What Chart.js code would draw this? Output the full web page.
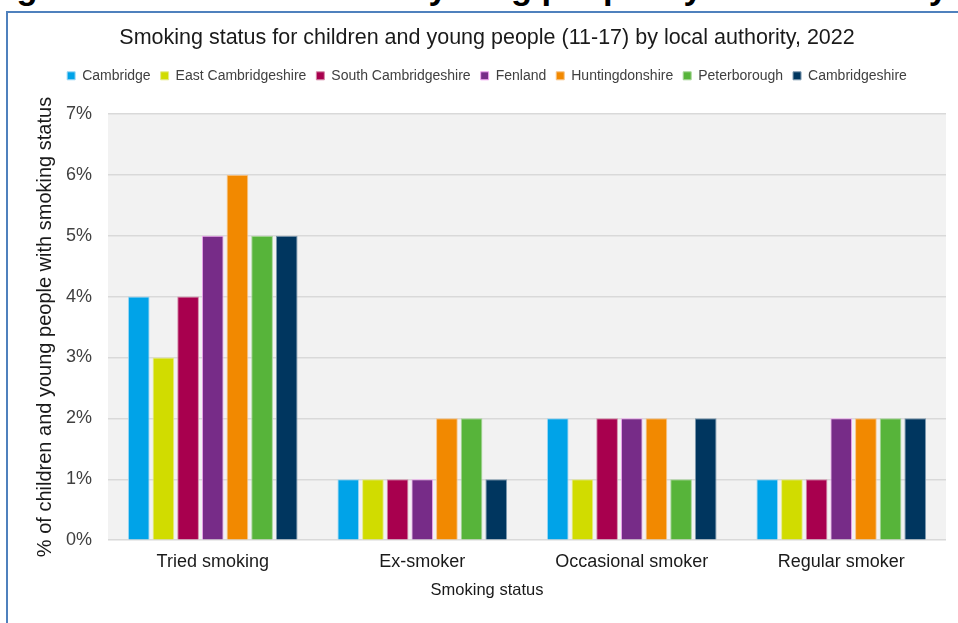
<!DOCTYPE html>
<html>
<head>
<meta charset="utf-8">
<script src="https://cdn.jsdelivr.net/npm/chart.js@4"></script>
<style>
  html, body { margin: 0; padding: 0; background: #fff; overflow: hidden; width: 958px; height: 623px; }
  #heading { position: absolute; right: 10px; top: -30px; font: bold 34.5px/34.5px "Liberation Sans", Arial, sans-serif; color: #000; white-space: nowrap; }
  #frame { position: absolute; left: 6px; top: 11px; width: 1000px; height: 700px; border-left: 2px solid #4f81bd; border-top: 2px solid #4f81bd; }
  #wrap { position: absolute; left: 8px; top: 13px; width: 964px; height: 610px; }
</style>
</head>
<body>
<div id="heading">Figure 20: Smoking status for children and young people by local authority</div>
<div id="frame"></div>
<div id="wrap"><canvas id="c" width="964" height="610"></canvas></div>
<script>
const categories = ['Tried smoking', 'Ex-smoker', 'Occasional smoker', 'Regular smoker'];
const seriesNames = ['Cambridge', 'East Cambridgeshire', 'South Cambridgeshire', 'Fenland', 'Huntingdonshire', 'Peterborough', 'Cambridgeshire'];
const cambridge = [4, 1, 2, 1];
const eastCambridgeshire = [3, 1, 1, 1];
const southCambridgeshire = [4, 1, 2, 1];
const fenland = [5, 1, 2, 2];
const huntingdonshire = [6, 2, 2, 2];
const peterborough = [5, 2, 1, 2];
const cambridgeshire = [5, 1, 2, 2];
const yTicks = [0, 1, 2, 3, 4, 5, 6, 7];

const seriesValues = [cambridge, eastCambridgeshire, southCambridgeshire, fenland, huntingdonshire, peterborough, cambridgeshire];
const fills = ['#00a3e8', '#d1dc00', '#a8004e', '#772c88', '#f28900', '#57b43a', '#00365f'];
const borders = ['#9fd8f5', '#e6eb8a', '#d48aa8', '#f2a6f2', '#f7c58a', '#a9d69a', '#7f9bb0'];

const FONT = '"Liberation Sans", Arial, sans-serif';

const plotBg = {
  id: 'plotBg',
  beforeDraw(chart) {
    const { ctx, chartArea: a } = chart;
    ctx.save();
    ctx.fillStyle = '#f2f2f2';
    ctx.fillRect(a.left, a.top, a.right - a.left, a.bottom - a.top);
    ctx.restore();
  }
};
const legendGap = {
  id: 'legendGap',
  beforeInit(chart) {
    const fit = chart.legend.fit;
    chart.legend.fit = function () { fit.bind(chart.legend)(); this.height += 21; };
  }
};

new Chart(document.getElementById('c'), {
  type: 'bar',
  data: {
    labels: categories,
    datasets: seriesNames.map((n, i) => ({
      label: n,
      data: seriesValues[i],
      backgroundColor: fills[i],
      borderColor: borders[i],
      borderWidth: 1,
      categoryPercentage: 0.824,
      barPercentage: 0.88
    }))
  },
  options: {
    responsive: false,
    devicePixelRatio: 1,
    animation: false,
    layout: { padding: { left: 20, right: 26, top: 0, bottom: 0 } },
    plugins: {
      tooltip: { enabled: false },
      title: {
        display: true,
        text: 'Smoking status for children and young people (11-17) by local authority, 2022',
        color: '#1a1a1a',
        font: { family: FONT, size: 21.5, weight: 'normal' },
        padding: { top: 12, bottom: 8 }
      },
      legend: {
        display: true,
        position: 'top',
        labels: {
          boxWidth: 8, boxHeight: 8, padding: 10,
          color: '#404040',
          font: { family: FONT, size: 14 }
        }
      },
      subtitle: {
        display: true,
        position: 'bottom',
        text: 'Smoking status',
        color: '#1a1a1a',
        font: { family: FONT, size: 16.5, weight: 'normal' },
        padding: { top: 0, bottom: 23 }
      }
    },
    scales: {
      x: {
        afterFit(scale) { scale.height = 40; },
        grid: { display: false, drawTicks: false },
        border: { display: false },
        ticks: { color: '#1a1a1a', font: { family: FONT, size: 18 }, padding: 11 }
      },
      y: {
        min: 0, max: 7,
        afterBuildTicks(scale) { scale.ticks = yTicks.map(v => ({ value: v })); },
        afterFit(scale) { scale.width = 80; },
        grid: { color: '#d9d9d9', lineWidth: 1.5, drawTicks: false },
        border: { display: false },
        ticks: { color: '#404040', font: { family: FONT, size: 18 }, padding: 16, callback: v => v + '%' },
        title: {
          display: true,
          text: '% of children and young people with smoking status',
          color: '#1a1a1a',
          font: { family: FONT, size: 20 },
          padding: { top: 5, bottom: 0 }
        }
      }
    }
  },
  plugins: [plotBg, legendGap]
});
</script>
</body>
</html>
